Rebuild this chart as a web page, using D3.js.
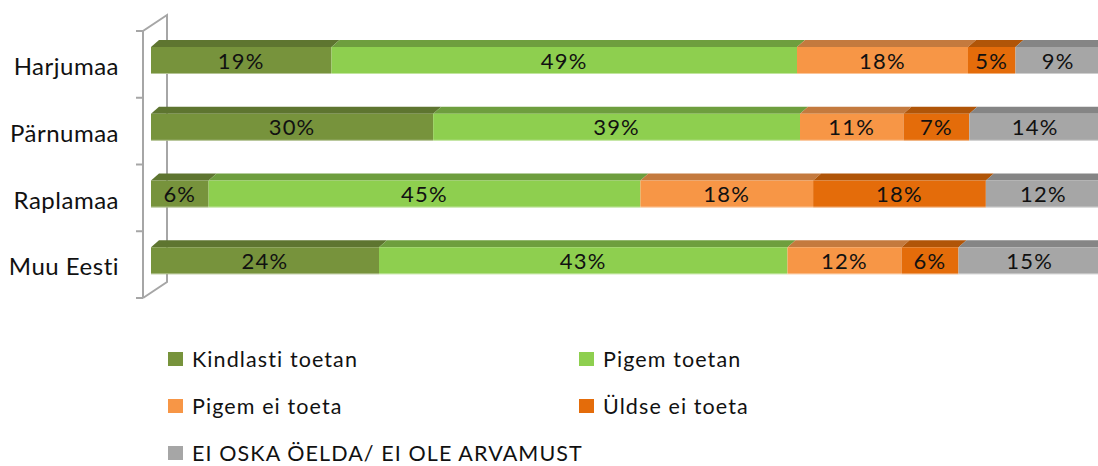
<!DOCTYPE html>
<html>
<head>
<meta charset="utf-8">
<script src="https://cdn.jsdelivr.net/npm/d3@7"></script>
<style>
  html, body { margin: 0; padding: 0; background: #fff; }
  svg { display: block; }
  text { font-family: Lato, "Open Sans", sans-serif; fill: #111; }
</style>
</head>
<body>
<svg id="chart" width="1098" height="466"></svg>
<script>
// ---- data ----
const categories = ["Harjumaa", "Pärnumaa", "Raplamaa", "Muu Eesti"];
const seriesNames = ["Kindlasti toetan", "Pigem toetan", "Pigem ei toeta", "Üldse ei toeta", "EI OSKA ÖELDA/ EI OLE ARVAMUST"];
const kindlastiToetan = [19, 30, 6, 24];
const pigemToetan     = [49, 39, 45, 43];
const pigemEiToeta    = [18, 11, 18, 12];
const uldseEiToeta    = [5, 7, 18, 6];
const eiOska          = [9, 14, 12, 15];
const seriesValues = [kindlastiToetan, pigemToetan, pigemEiToeta, uldseEiToeta, eiOska];

const frontColors = ["#77933C", "#8ECF4F", "#F79646", "#E46C0A", "#A6A6A6"];
const topColors   = ["#5E7530", "#6E9E3E", "#C47A3E", "#B05508", "#858585"];

// ---- layout ----
const svg = d3.select("#chart");
const x = d3.scaleLinear().domain([0, 1]).range([151, 1101]);
const y = d3.scaleBand().domain(categories).range([31, 298]);
const depthX = 8, depthY = 7;
const faceTop = 16, faceH = 27;

// wall (drawn behind the bars)
const wall = svg.append("g").attr("stroke", "#A6A6A6").attr("stroke-width", 2).attr("fill", "none");
const wx0 = 143, wx1 = 167, wdy = 16;
const yTop = y.range()[0], yBot = y.range()[1];
wall.append("path").attr("d", `M${wx0},${yBot}L${wx0},${yTop}L${wx1},${yTop - wdy}L${wx1},${yBot - wdy}L${wx0},${yBot}`);
const tickYs = categories.map(c => y(c)).concat([yBot]);
wall.selectAll("line.tick").data(tickYs).join("line")
  .attr("x1", wx0 - 7).attr("x2", wx0).attr("y1", d => d).attr("y2", d => d);

// stacked data normalised per row (100% stacked)
const rows = categories.map((c, i) => {
  const vals = seriesValues.map(s => s[i]);
  const total = d3.sum(vals);
  let acc = 0;
  return vals.map((v, k) => {
    const seg = { cat: c, k, v, x0: acc / total, x1: (acc + v) / total };
    acc += v;
    return seg;
  });
});

const barG = svg.append("g");
rows.forEach(row => {
  const g = barG.append("g");
  const top = y(row[0].cat) + faceTop;
  // top faces
  g.selectAll("path.top").data(row).join("path")
    .attr("fill", d => topColors[d.k])
    .attr("d", d => {
      const a = x(d.x0), b = x(d.x1);
      return `M${a},${top}L${b},${top}L${b + depthX},${top - depthY}L${a + depthX},${top - depthY}Z`;
    });
  // front faces
  g.selectAll("rect.front").data(row).join("rect")
    .attr("x", d => x(d.x0)).attr("width", d => x(d.x1) - x(d.x0))
    .attr("y", top).attr("height", faceH)
    .attr("fill", d => frontColors[d.k]);
  // bottom light edge
  g.append("line").attr("x1", x(0)).attr("x2", x(1)).attr("y1", top + faceH - 0.5).attr("y2", top + faceH - 0.5)
    .attr("stroke", "#ffffff").attr("stroke-opacity", 0.45).attr("stroke-width", 1);
  // labels
  g.selectAll("text").data(row).join("text")
    .attr("x", d => (x(d.x0) + x(d.x1)) / 2)
    .attr("y", top + faceH / 2 + 8)
    .attr("text-anchor", "middle")
    .attr("font-size", 22)
    .attr("letter-spacing", 1.2)
    .text(d => d.v + "%");
});

// category labels
svg.append("g").selectAll("text").data(categories).join("text")
  .attr("x", 119).attr("y", d => y(d) + 44)
  .attr("text-anchor", "end")
  .attr("font-size", 24)
  .attr("letter-spacing", 0.5)
  .text(d => d);

// legend
const legendPos = [[168, 367], [579, 367], [168, 414], [579, 414], [168, 461]];
const leg = svg.append("g").selectAll("g").data(seriesNames).join("g")
  .attr("transform", (d, i) => `translate(${legendPos[i][0]},${legendPos[i][1]})`);
leg.append("rect").attr("x", 0).attr("y", -15).attr("width", 15).attr("height", 14)
  .attr("fill", (d, i) => frontColors[i]);
leg.append("text").attr("x", 24).attr("y", 0).attr("font-size", 21.5).attr("letter-spacing", 1.1).text(d => d);
</script>
</body>
</html>
